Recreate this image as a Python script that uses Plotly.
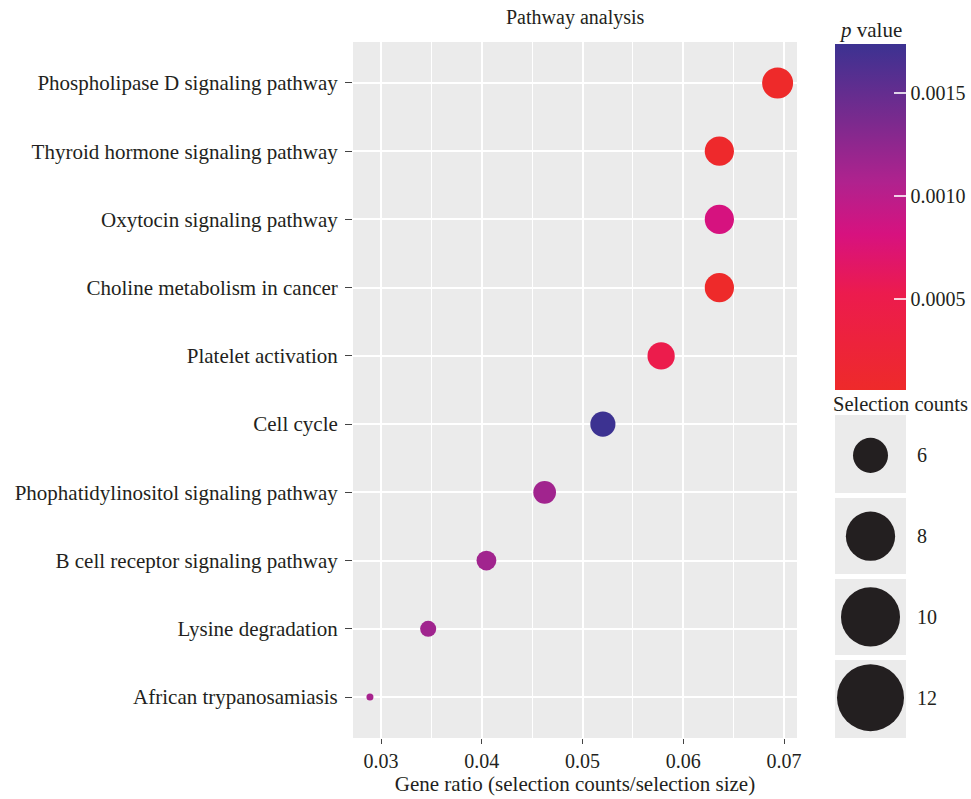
import plotly.graph_objects as go
import numpy as np

pathways = [
    "Phospholipase D signaling pathway",
    "Thyroid hormone signaling pathway",
    "Oxytocin signaling pathway",
    "Choline metabolism in cancer",
    "Platelet activation",
    "Cell cycle",
    "Phophatidylinositol signaling pathway",
    "B cell receptor signaling pathway",
    "Lysine degradation",
    "African trypanosamiasis",
]
counts = [12, 11, 11, 11, 10, 9, 8, 7, 6, 5]
selection_size = 173
p_values = [0.00006, 0.00008, 0.00082, 0.00006, 0.00050, 0.00174, 0.00115, 0.00115, 0.00116, 0.00112]
legend_counts = [6, 8, 10, 12]
colorbar_ticks = [0.0005, 0.0010, 0.0015]
x_ticks = [0.03, 0.04, 0.05, 0.06, 0.07]

FONT = "Liberation Serif"
TXT = "#231F20"
W, H = 971, 799
L, R, T, B = 353, 0, 42, 61
pw = W - L - R
ph = H - T - B

gene_ratio = np.array(counts) / selection_size
cmin_c, cmax_c = min(counts), max(counts)


def size_scale(c, lo, hi):
    c = np.asarray(c, dtype=float)
    return lo + (hi - lo) * np.sqrt((c - cmin_c) / (cmax_c - cmin_c))


def px_x(x):
    return (x - L) / pw


def px_y(y):
    return (H - B - y) / ph


colorscale = [
    [0.0, "#EE2A2A"],
    [0.28, "#EC1B4E"],
    [0.45, "#D7127F"],
    [0.6, "#B0228E"],
    [0.78, "#7A2A8E"],
    [1.0, "#3C3291"],
]

fig = go.Figure()
fig.add_trace(go.Scatter(
    x=gene_ratio, y=pathways, mode="markers",
    marker=dict(
        size=size_scale(counts, 7, 31), sizemode="diameter",
        color=p_values, colorscale=colorscale,
        cmin=min(p_values), cmax=max(p_values),
        line=dict(width=0), opacity=1,
        colorbar=dict(
            x=px_x(835), xanchor="left", xpad=0,
            y=px_y(44), yanchor="top", ypad=0,
            thickness=71, thicknessmode="pixels",
            len=346, lenmode="pixels",
            outlinewidth=0,
            tickvals=colorbar_ticks, tickformat=".4f", tickprefix="\u2005",
            ticks="inside", ticklen=12, tickcolor="rgba(255,255,255,0.8)", tickwidth=1.5,
            tickfont=dict(family=FONT, size=20, color=TXT),
        ),
    ),
    showlegend=False, hoverinfo="skip",
))

fig.add_trace(go.Scatter(
    x=[0] * len(legend_counts), y=[str(c) for c in legend_counts], mode="markers",
    marker=dict(size=size_scale(legend_counts, 15.6, 67), sizemode="diameter",
                color="#231F20", opacity=1, line=dict(width=0)),
    xaxis="x2", yaxis="y2", showlegend=False, hoverinfo="skip",
))

fig.update_layout(
    width=W, height=H,
    margin=dict(l=L, r=R, t=T, b=B, pad=0, autoexpand=False),
    paper_bgcolor="white", plot_bgcolor="#EBEBEB",
    font=dict(family=FONT, color=TXT),
    xaxis=dict(
        domain=[0, px_x(797)],
        range=[0.02722, 0.07129],
        tickvals=x_ticks, tickformat=".2f",
        showgrid=True, gridcolor="white", gridwidth=2.2,
        minor=dict(dtick=0.005, tick0=0.025, showgrid=True, gridcolor="white", gridwidth=1, ticks=""),
        ticks="outside", ticklen=5, tickwidth=1.3, tickcolor="#444",
        tickfont=dict(family=FONT, size=20, color=TXT),
        zeroline=False, showline=False, automargin=False,
        title=dict(text="Gene ratio (selection counts/selection size)",
                   font=dict(family=FONT, size=21, color=TXT), standoff=4),
    ),
    yaxis=dict(
        type="category", categoryorder="array", categoryarray=pathways[::-1],
        range=[-0.6, len(pathways) - 0.4],
        showgrid=True, gridcolor="white", gridwidth=2.2,
        ticks="outside", ticklen=7, tickwidth=1.3, tickcolor="#444",
        ticklabelstandoff=3,
        tickfont=dict(family=FONT, size=21, color=TXT),
        zeroline=False, showline=False, automargin=False,
    ),
    xaxis2=dict(
        domain=[px_x(835), px_x(906)], anchor="y2",
        range=[-1, 1], showgrid=False, zeroline=False, showticklabels=False, ticks="",
    ),
    yaxis2=dict(
        domain=[0, px_y(415)], anchor="x2",
        type="category", categoryorder="array", categoryarray=[str(c) for c in legend_counts[::-1]],
        range=[-0.5, len(legend_counts) - 0.5],
        tickson="boundaries", showgrid=True, gridcolor="white", gridwidth=5,
        side="right", ticks="", ticklabelstandoff=10,
        tickfont=dict(family=FONT, size=20, color=TXT),
        zeroline=False, showline=False, automargin=False,
    ),
    annotations=[
        dict(text="Pathway analysis", x=px_x(575), y=px_y(18), xref="paper", yref="paper", yanchor="middle",
             xanchor="center", showarrow=False, font=dict(family=FONT, size=20, color=TXT)),
        dict(text="<i>p</i> value", x=px_x(870), y=px_y(30), xref="paper", yref="paper", yanchor="middle",
             xanchor="center", showarrow=False, font=dict(family=FONT, size=21, color=TXT)),
        dict(text="Selection counts", x=px_x(831), y=px_y(404), xref="paper", yref="paper", yanchor="middle",
             xanchor="left", showarrow=False, font=dict(family=FONT, size=20.5, color=TXT)),
    ],
)

fig.write_html("out.html")
